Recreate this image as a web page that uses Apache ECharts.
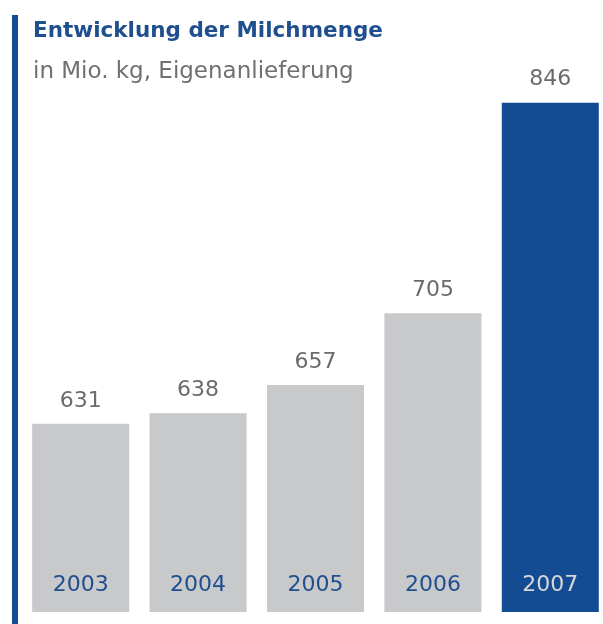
<!DOCTYPE html>
<html>
<head>
<meta charset="utf-8">
<script src="https://cdn.jsdelivr.net/npm/echarts@6/dist/echarts.min.js"></script>
<style>
    html, body { margin: 0; padding: 0; background: #fff; overflow: hidden; }
    #chart { width: 620px; height: 624px; }
</style>
</head>
<body>
<div id="chart"></div>
<script>
'use strict';
const years = ['2003', '2004', '2005', '2006', '2007'];
const menge = [631, 638, 657, 705, 846];

const BLUE = '#134c92';
const GREY = '#c8c9cb';
const FONT = 'DejaVu Sans';

let myChart = echarts.init(document.getElementById('chart'));
let option = {
    animation: false,
    textStyle: { fontFamily: FONT },
    title: [{
        text: 'Entwicklung der Milchmenge',
        left: 28, top: 15,
        textStyle: { color: '#1f4f8e', fontSize: 21.5, fontWeight: 'bold', fontFamily: FONT }
    }, {
        text: 'in Mio. kg, Eigenanlieferung',
        left: 28, top: 56,
        textStyle: { color: '#707070', fontSize: 23, fontWeight: 'normal', fontFamily: FONT }
    }],
    graphic: [{
        type: 'rect',
        shape: { x: 12, y: 15, width: 6, height: 609 },
        style: { fill: BLUE }
    }],
    grid: { left: 22, top: 22, width: 587, bottom: 12 },
    xAxis: {
        type: 'category',
        data: years,
        axisLine: { show: false },
        axisTick: { show: false },
        axisLabel: {
            inside: true,
            margin: 16,
            fontSize: 22,
            fontFamily: FONT,
            color: function (v) { return v === '2007' ? '#d6d7d9' : '#1f4f8e'; }
        },
        z: 10
    },
    yAxis: {
        type: 'value',
        min: 505,
        max: 900,
        show: false,
        splitLine: { show: false }
    },
    series: [{
        type: 'bar',
        data: menge,
        barWidth: 97,
        itemStyle: {
            color: function (p) { return p.dataIndex === menge.length - 1 ? BLUE : GREY; }
        },
        label: {
            show: true,
            position: 'top',
            distance: 12,
            fontSize: 22,
            color: '#6b6b6b',
            fontFamily: FONT
        }
    }]
};
myChart.setOption(option);
</script>
</body>
</html>
